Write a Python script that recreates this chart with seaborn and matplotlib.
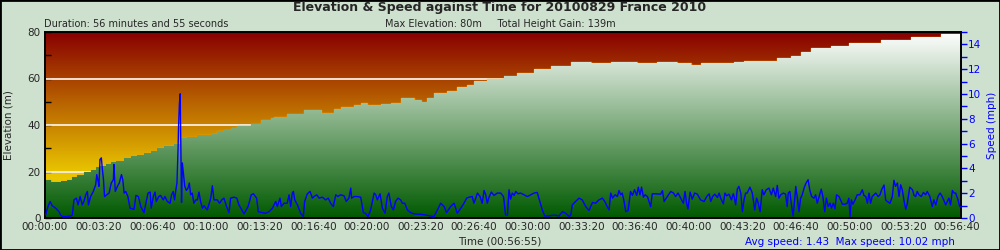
import numpy as np
import matplotlib
matplotlib.use("Agg")
import matplotlib.pyplot as plt
import seaborn as sns
from matplotlib.colors import LinearSegmentedColormap
from matplotlib.ticker import MultipleLocator, FuncFormatter
from matplotlib.patches import PathPatch, Rectangle

sns.set_style("white")
plt.rcParams["font.family"] = ["DejaVu Sans"]

# ---------------- data ----------------
title = "Elevation & Speed against Time for 20100829 France 2010"
duration_text = "Duration: 56 minutes and 55 seconds"
stats_text = "Max Elevation: 80m     Total Height Gain: 139m"
time_label = "Time (00:56:55)"
speed_text = "Avg speed: 1.43  Max speed: 10.02 mph"
total_seconds = 3415

elev_time = [0, 21, 58, 83, 102, 120, 145, 170, 189, 201,
             226, 245, 264, 294, 319, 344, 369, 394, 419, 444,
             481, 506, 531, 568, 618, 642, 667, 692, 717, 767,
             804, 841, 854, 903, 966, 1028, 1077, 1102, 1152, 1177,
             1202, 1251, 1289, 1326, 1376, 1401, 1425, 1450, 1500, 1537,
             1574, 1599, 1649, 1711, 1761, 1823, 1885, 1960, 2034, 2109,
             2208, 2283, 2357, 2407, 2444, 2506, 2569, 2606, 2730, 2780,
             2817, 2855, 2929, 2997, 3116, 3227, 3339]
elev_m = [16.3, 15.6, 15.8, 16.3, 17.6, 18.7, 19.7, 20.7, 21.9, 22.2,
          23.3, 24.0, 24.7, 25.8, 26.5, 27.2, 27.9, 28.9, 30.3, 31.0,
          31.7, 34.3, 34.9, 35.7, 36.0, 37.4, 37.7, 38.9, 39.6, 40.3,
          42.0, 42.9, 43.6, 44.7, 46.3, 45.3, 47.0, 47.6, 48.6, 49.3,
          48.6, 49.0, 49.6, 51.5, 50.8, 49.8, 51.5, 53.6, 54.7, 56.5,
          57.2, 58.9, 60.0, 61.1, 62.5, 64.2, 65.4, 66.9, 66.5, 67.0,
          66.6, 67.0, 66.7, 65.8, 66.8, 66.6, 67.1, 67.5, 68.7, 69.7,
          71.6, 73.0, 74.0, 75.2, 76.6, 77.7, 79.0]

speed_time = [
    2, 11, 19, 27, 40, 52, 58, 65, 77, 96,
    102, 108, 117, 123, 131, 139, 145, 152, 158, 162,
    170, 180, 189, 193, 198, 201, 205, 210, 214, 218,
    222, 230, 239, 247, 255, 257, 262, 270, 277, 285,
    290, 295, 301, 309, 317, 332, 339, 348, 357, 369,
    375, 384, 392, 396, 404, 410, 415, 424, 431, 441,
    447, 456, 466, 472, 478, 483, 488, 492, 496, 498,
    501, 504, 507, 509, 512, 516, 521, 527, 533, 538,
    543, 549, 555, 562, 568, 574, 580, 587, 593, 605,
    618, 624, 630, 642, 651, 659, 667, 677, 686, 692,
    705, 715, 723, 742, 757, 769, 777, 789, 795, 810,
    823, 835, 848, 858,
    860, 866, 876, 881, 891, 903, 910, 916, 922, 926,
    931, 941, 953, 963, 968, 978, 988, 997, 1003, 1013,
    1022, 1034, 1046, 1056, 1065, 1075, 1084, 1092, 1102, 1115,
    1123, 1133, 1140, 1143, 1152, 1164, 1177, 1187, 1195, 1204,
    1214, 1227, 1233, 1239, 1249, 1258, 1268, 1276, 1282, 1291,
    1299, 1307, 1316, 1326, 1332, 1341, 1351, 1363, 1376, 1400,
    1425, 1450, 1463, 1475, 1488, 1497, 1512, 1525, 1537, 1550,
    1562, 1572, 1581, 1593, 1599, 1606, 1612, 1622, 1630, 1637,
    1643, 1649, 1655, 1664, 1674, 1686, 1699, 1709,
    1711, 1717, 1724, 1730, 1736, 1742, 1749, 1755, 1763, 1773,
    1786, 1798, 1811, 1823, 1835, 1845, 1854, 1863, 1879, 1891,
    1904, 1916, 1929, 1941, 1954, 1960, 1966, 1978, 1991, 2003,
    2016, 2028, 2041, 2053, 2065, 2078, 2087, 2096, 2103, 2109,
    2116, 2125, 2134, 2140, 2146, 2152, 2159, 2165, 2174, 2183,
    2190, 2198, 2206, 2212, 2218, 2224, 2231, 2237, 2246, 2258,
    2264, 2277, 2295, 2302, 2308, 2320, 2333, 2343, 2351, 2360,
    2370, 2380, 2386, 2392, 2397, 2405, 2413, 2422, 2432, 2444,
    2457, 2467, 2476, 2482, 2489, 2497, 2507, 2513, 2519, 2529,
    2535, 2541, 2550, 2559, 2566,
    2569, 2575, 2581, 2587, 2594, 2600, 2606, 2612, 2618, 2628,
    2637, 2646, 2653, 2659, 2666, 2674, 2680, 2689, 2699, 2708,
    2715, 2724, 2730, 2736, 2743, 2753, 2761, 2767, 2771, 2777,
    2782, 2789, 2795, 2799, 2805, 2811, 2817, 2823, 2830, 2836,
    2845, 2851, 2858, 2867, 2873, 2879, 2886, 2894, 2900, 2907,
    2913, 2920, 2927, 2932, 2939, 2945, 2951, 2960, 2966, 2973,
    2982, 2991, 2997, 3001, 3006, 3012, 3020, 3028, 3038, 3047,
    3053, 3060, 3066, 3072, 3078, 3084, 3091, 3097, 3106, 3113,
    3119, 3128, 3134, 3140, 3150, 3159, 3165, 3171, 3178, 3184,
    3190, 3196, 3202, 3209, 3215, 3224, 3234, 3240, 3246, 3252,
    3258, 3267, 3275, 3283, 3289, 3299, 3308, 3314, 3321, 3329,
    3337, 3345, 3358, 3370, 3376, 3383, 3389, 3395, 3404, 3410,
    3415]
speed_mph = [
    0.24, 0.92, 1.33, 0.98, 0.79, 0.51, 0.24, 0.11, 0.11, 0.16,
    0.24, 1.46, 1.60, 1.06, 1.73, 1.06, 1.33, 1.87, 2.14, 1.06,
    1.73, 2.14, 2.68, 3.50, 2.95, 2.55, 4.72, 4.85, 3.90, 3.09,
    1.73, 1.87, 2.01, 2.82, 3.09, 4.31, 2.14, 2.55, 2.82, 3.50,
    3.09, 2.01, 2.14, 1.73, 0.79, 0.70, 1.82, 1.73, 0.92, 0.43,
    1.06, 2.01, 2.09, 0.79, 1.73, 2.09, 1.33, 1.73, 1.82, 1.46,
    1.73, 1.33, 1.19, 1.87, 2.14, 1.46, 2.28, 2.82, 5.53, 7.43,
    9.19, 10.02, 4.44, 1.25, 4.44, 3.63, 2.55, 2.22, 2.41, 2.82,
    1.87, 2.01, 1.19, 1.46, 1.46, 2.09, 1.33, 0.79, 0.98, 0.65,
    1.60, 2.60, 1.46, 1.46, 1.19, 1.46, 1.60, 0.92, 0.43, 1.60,
    1.68, 1.60, 1.06, 0.33, 0.92, 1.87, 1.95, 1.60, 0.51, 0.43,
    0.38, 0.51, 0.79, 1.25,
    1.33, 0.92, 1.60, 0.92, 1.19, 1.19, 1.87, 0.92, 2.01, 2.14,
    1.46, 1.06, 0.38, 0.11, 1.33, 1.95, 2.14, 1.60, 1.73, 1.87,
    1.60, 1.68, 1.46, 1.60, 1.19, 0.92, 1.87, 1.73, 1.87, 1.79,
    1.33, 1.60, 2.41, 1.60, 1.73, 1.73, 1.68, 0.43, 0.38, 0.11,
    0.65, 2.01, 1.87, 1.46, 1.95, 0.79, 0.38, 1.73, 2.01, 0.92,
    0.65, 1.33, 1.60, 1.46, 1.19, 1.19, 0.65, 0.43, 0.33, 0.30,
    0.22, 0.11, 0.65, 1.19, 0.92, 0.43, 0.92, 1.19, 0.38, 0.79,
    1.19, 1.60, 1.68, 1.73, 1.19, 1.60, 2.01, 1.73, 1.19, 2.22,
    1.87, 1.19, 1.65, 2.09, 1.82, 2.01, 2.01, 1.73,
    1.46, 0.24, 0.24, 2.28, 1.52, 2.01, 1.82, 2.14, 1.95, 2.01,
    1.87, 1.73, 1.87, 2.01, 2.06, 1.33, 0.65, 0.16, 0.16, 0.22,
    0.22, 0.16, 0.51, 0.38, 0.11, 0.24, 1.06, 1.33, 1.60, 1.46,
    0.92, 0.60, 1.25, 1.19, 1.46, 1.60, 1.33, 0.92, 0.65, 2.01,
    1.60, 1.87, 1.73, 2.22, 1.87, 2.01, 1.33, 0.51, 0.60, 2.14,
    1.82, 2.28, 1.82, 2.49, 1.87, 2.49, 1.68, 1.87, 1.73, 0.92,
    1.95, 1.95, 1.92, 2.20, 1.33, 1.73, 2.14, 2.01, 1.73, 2.01,
    1.60, 1.19, 2.14, 1.19, 0.73, 2.09, 1.52, 2.01, 1.92, 1.46,
    1.33, 1.73, 1.95, 1.33, 1.73, 1.92, 1.65, 2.01, 1.60, 1.14,
    2.01, 1.79, 1.92, 1.46, 1.95,
    1.73, 1.06, 2.33, 2.55, 2.01, 0.51, 1.46, 2.01, 2.01, 2.49,
    2.01, 0.65, 1.60, 1.19, 0.51, 2.28, 1.87, 2.28, 2.41, 1.87,
    2.41, 1.73, 2.63, 1.60, 1.87, 2.01, 1.92, 0.92, 2.01, 2.14,
    1.19, 0.16, 1.46, 2.55, 1.60, 0.51, 1.60, 1.87, 2.41, 2.76,
    3.09, 2.28, 1.73, 1.60, 1.87, 1.19, 1.73, 2.33, 1.73, 0.51,
    1.60, 0.92, 1.19, 0.79, 1.19, 0.73, 1.87, 1.73, 1.46, 1.11,
    1.11, 1.19, 1.60, 0.11, 1.46, 1.11, 1.46, 1.87, 1.87, 2.28,
    1.82, 1.73, 1.19, 2.01, 1.19, 1.73, 1.87, 2.01, 1.73, 1.87,
    2.28, 2.66, 1.46, 1.33, 1.19, 1.73, 3.04, 2.55, 2.82, 1.73,
    2.68, 2.28, 1.46, 0.70, 1.19, 2.49, 2.28, 1.82, 1.73, 2.14,
    1.87, 1.73, 2.06, 1.87, 2.14, 1.73, 0.92, 1.46, 1.06, 1.73,
    2.01, 1.73, 1.06, 1.60, 1.06, 2.22, 2.01, 2.01, 1.46, 0.92,
    0.90]

# ---------------- figure ----------------
BG = "#CEE0CE"
fig = plt.figure(figsize=(10, 2.5), dpi=100, facecolor=BG)
ax = fig.add_axes([0.045, 0.128, 0.916, 0.744])

grad = np.linspace(0, 1, 256).reshape(-1, 1)
sky = LinearSegmentedColormap.from_list(
    "sky", [(0.0, "#F2D400"), (0.25, "#E8C400"), (1.0, "#880000")])
ax.imshow(grad, cmap=sky, origin="lower", aspect="auto",
          extent=[0, total_seconds, 0, 80], zorder=0, interpolation="bilinear")

for g in (20, 40, 60):
    ax.axhline(g, color="#F6EEE2", lw=1.3, zorder=1)

ex = list(elev_time) + [total_seconds]
ey = list(elev_m) + [elev_m[-1]]
ax.step(ex, ey, where="post", color="#FFA000", lw=1.0, zorder=1.5)
poly = ax.fill_between(ex, ey, step="post", facecolor="none",
                       edgecolor="none", zorder=2)
clip = PathPatch(poly.get_paths()[0], transform=ax.transData,
                 facecolor="none", edgecolor="none")
ax.add_patch(clip)
green = LinearSegmentedColormap.from_list(
    "green", [(0.0, "#005A00"), (1.0, "#FFFFFF")])
im = ax.imshow(grad, cmap=green, origin="lower", aspect="auto",
               extent=[0, total_seconds, 0, 80], zorder=2.5,
               interpolation="bilinear")
im.set_clip_path(clip)

ax.set_xlim(0, total_seconds)
ax.set_ylim(0, 80)

def hms(v, pos=None):
    v = int(round(v))
    return f"{v // 3600:02d}:{(v % 3600) // 60:02d}:{v % 60:02d}"

ax.xaxis.set_major_locator(MultipleLocator(200))
ax.xaxis.set_minor_locator(MultipleLocator(100))
ax.xaxis.set_major_formatter(FuncFormatter(hms))
ax.yaxis.set_major_locator(MultipleLocator(20))
ax.yaxis.set_minor_locator(MultipleLocator(10))
ax.tick_params(axis="x", which="both", bottom=True, direction="in",
               length=4, width=1, color="black", labelsize=7.5, pad=3)
ax.tick_params(axis="y", which="both", left=True, direction="in",
               length=4, width=1, color="black", labelsize=7.5, pad=3)
for s in ax.spines.values():
    s.set_color("black")
    s.set_linewidth(1.2)

ax2 = ax.twinx()
sns.lineplot(x=speed_time, y=speed_mph, ax=ax2, color="#0000FF",
             lw=1.0, estimator=None, sort=False, zorder=5)
ax2.set_ylim(0, 15)
ax2.set_xlim(0, total_seconds)
ax2.yaxis.set_major_locator(MultipleLocator(2))
ax2.yaxis.set_minor_locator(MultipleLocator(1))
ax2.tick_params(axis="y", which="both", right=True, direction="out",
                length=4, width=1, color="#0000FF", labelcolor="#0000FF",
                labelsize=7.5, pad=1)
ax2.set_ylabel("")
ax2.set_xlabel("")
for s in ax2.spines.values():
    s.set_color("black")
    s.set_linewidth(1.2)

# ---------------- texts ----------------
fig.text(0.5, 1 - 8 / 250, title, ha="center", va="center",
         fontsize=9, fontweight="bold")
fig.text(0.044, 1 - 24 / 250, duration_text, ha="left", va="center", fontsize=7)
fig.text(0.5, 1 - 24 / 250, stats_text, ha="center", va="center", fontsize=7)
fig.text(0.5, 1 - 242 / 250, time_label, ha="center", va="center", fontsize=7.5)
fig.text(0.955, 1 - 242 / 250, speed_text, ha="right", va="center",
         fontsize=7.5, color="#0000FF")
fig.text(0.009, 1 - 125 / 250, "Elevation (m)", rotation=90, ha="center",
         va="center", fontsize=7.5)
fig.text(0.992, 1 - 125 / 250, "Speed (mph)", rotation=90, ha="center",
         va="center", fontsize=7.5, color="#0000FF")

fig.add_artist(Rectangle((0, 0), 1, 1, transform=fig.transFigure,
                         fill=False, edgecolor="black", lw=2))

fig.savefig("out.png", dpi=100, facecolor=BG)
